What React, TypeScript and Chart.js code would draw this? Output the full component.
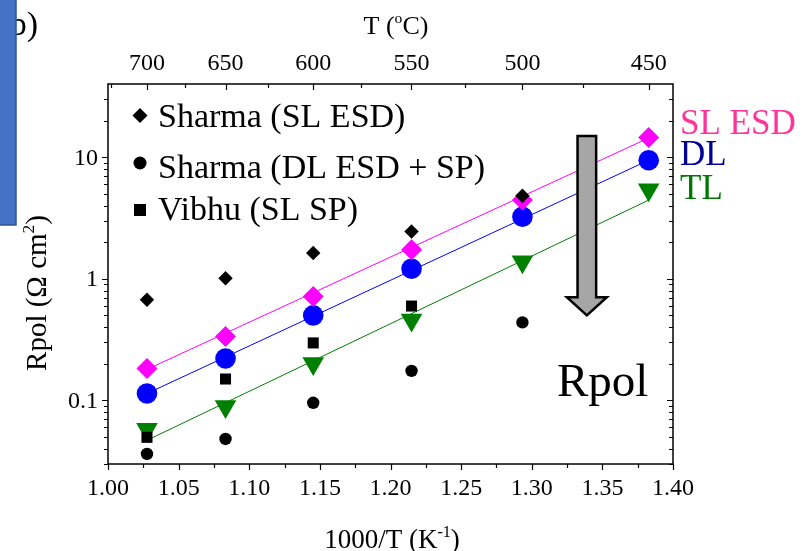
import React, { useEffect, useRef } from "react";
import { Chart, registerables } from "chart.js";

Chart.register(...registerables);

// 1000/T positions (K^-1) of the measurement temperatures 700 ... 450 °C
const invT = [1.0276, 1.0832, 1.1453, 1.2149, 1.2934, 1.3828];

// Axis ticks
const xTicks = [1.0, 1.05, 1.1, 1.15, 1.2, 1.25, 1.3, 1.35, 1.4];
const xTickLabels = ["1.00", "1.05", "1.10", "1.15", "1.20", "1.25", "1.30", "1.35", "1.40"];
const xMinorTicks = [1.025, 1.075, 1.125, 1.175, 1.225, 1.275, 1.325, 1.375];
const tempTicks = [700, 650, 600, 550, 500, 450];
const tempMinorTicks = [725, 675, 625, 575, 525, 475];
const yTicks = [0.1, 1, 10];
const yTickLabels = ["0.1", "1", "10"];
const yMinorTicks = [
  0.03, 0.04, 0.05, 0.06, 0.07, 0.08, 0.09,
  0.2, 0.3, 0.4, 0.5, 0.6, 0.7, 0.8, 0.9,
  2, 3, 4, 5, 6, 7, 8, 9,
  20, 30,
];

// Literature data (black symbols)
const sharmaSL = [0.673, 1.01, 1.63, 2.45, 4.82];
const sharmaDL = [0.0363, 0.0482, 0.0956, 0.175, 0.438];
const vibhuSL = [0.0497, 0.15, 0.297, 0.597];

// This work: single, double and triple layer cathodes
const slEsd = [0.183, 0.336, 0.716, 1.73, 4.44, 14.5];
const dlEsd = [0.114, 0.221, 0.5, 1.21, 3.24, 9.45];
const tlEsd = [0.0578, 0.0893, 0.201, 0.459, 1.38, 5.4];

// Arrhenius fit lines (end points)
const fitX = [1.0276, 1.3828];
const fitSL = [0.18, 14.4];
const fitDL = [0.114, 9.45];
const fitTL = [0.047, 4.44];

const SERIF = '"Liberation Serif", "Times New Roman", serif';

const pts = (ys: number[]) => ys.map((v, i) => ({ x: invT[i], y: v }));
const fitPts = (ys: number[]) => ys.map((v, i) => ({ x: fitX[i], y: v }));

type Part = { t: string; sup?: boolean };

function richWidth(ctx: CanvasRenderingContext2D, parts: Part[], size: number) {
  let w = 0;
  for (const p of parts) {
    ctx.font = `${p.sup ? size * 0.6 : size}px ${SERIF}`;
    w += ctx.measureText(p.t).width;
  }
  return w;
}

function drawRich(ctx: CanvasRenderingContext2D, parts: Part[], size: number, x: number, y: number) {
  const w = richWidth(ctx, parts, size);
  let cx = x - w / 2;
  ctx.textAlign = "left";
  ctx.textBaseline = "alphabetic";
  for (const p of parts) {
    ctx.font = `${p.sup ? size * 0.6 : size}px ${SERIF}`;
    ctx.fillText(p.t, cx, p.sup ? y - size * 0.42 : y);
    cx += ctx.measureText(p.t).width;
  }
}

const decorPlugin = {
  id: "decor",
  afterDatasetsDraw(chart: any) {
    const { ctx, chartArea: a, scales } = chart;
    const xs = scales.x;
    const ys = scales.y;
    ctx.save();

    // frame
    ctx.strokeStyle = "#000";
    ctx.lineWidth = 1.5;
    ctx.strokeRect(a.left, a.top, a.right - a.left, a.bottom - a.top);

    ctx.lineWidth = 1.2;
    ctx.beginPath();
    // bottom axis: outward ticks
    for (const v of xTicks) {
      const px = Math.round(xs.getPixelForValue(v)) + 0.5;
      ctx.moveTo(px, a.bottom);
      ctx.lineTo(px, a.bottom + 6);
    }
    for (const v of xMinorTicks) {
      const px = Math.round(xs.getPixelForValue(v)) + 0.5;
      ctx.moveTo(px, a.bottom);
      ctx.lineTo(px, a.bottom + 4);
    }
    // top axis (temperature): inward ticks
    for (const t of tempTicks) {
      const px = Math.round(xs.getPixelForValue(1000 / (t + 273.15))) + 0.5;
      ctx.moveTo(px, a.top);
      ctx.lineTo(px, a.top + 6);
    }
    for (const t of tempMinorTicks) {
      const px = Math.round(xs.getPixelForValue(1000 / (t + 273.15))) + 0.5;
      ctx.moveTo(px, a.top);
      ctx.lineTo(px, a.top + 4);
    }
    // left axis: outward, right axis: inward
    for (const v of yTicks) {
      const py = Math.round(ys.getPixelForValue(v)) + 0.5;
      ctx.moveTo(a.left - 6, py);
      ctx.lineTo(a.left, py);
      ctx.moveTo(a.right - 6, py);
      ctx.lineTo(a.right, py);
    }
    for (const v of yMinorTicks) {
      const py = Math.round(ys.getPixelForValue(v)) + 0.5;
      ctx.moveTo(a.left - 4, py);
      ctx.lineTo(a.left, py);
      ctx.moveTo(a.right - 4, py);
      ctx.lineTo(a.right, py);
    }
    ctx.stroke();

    // tick labels
    ctx.fillStyle = "#000";
    ctx.font = `24px ${SERIF}`;
    ctx.textAlign = "center";
    ctx.textBaseline = "alphabetic";
    xTicks.forEach((v, i) => {
      ctx.fillText(xTickLabels[i], xs.getPixelForValue(v), a.bottom + 31);
    });
    tempTicks.forEach((t) => {
      ctx.fillText(String(t), xs.getPixelForValue(1000 / (t + 273.15)), a.top - 14);
    });
    ctx.textAlign = "right";
    ctx.textBaseline = "middle";
    yTicks.forEach((v, i) => {
      ctx.fillText(yTickLabels[i], a.left - 10, ys.getPixelForValue(v) + 1);
    });

    // axis titles
    drawRich(ctx, [{ t: "1000/T (K" }, { t: "-1", sup: true }, { t: ")" }], 27, 392, 548);
    drawRich(ctx, [{ t: "T (" }, { t: "o", sup: true }, { t: "C)" }], 26, 396, 34);
    ctx.save();
    ctx.translate(46, 293);
    ctx.rotate(-Math.PI / 2);
    drawRich(ctx, [{ t: "Rpol (Ω cm" }, { t: "2", sup: true }, { t: ")" }], 29, 0, 0);
    ctx.restore();

    // legend for literature data
    const lx = 140;
    ctx.fillStyle = "#000";
    ctx.beginPath();
    ctx.moveTo(lx, 108);
    ctx.lineTo(lx + 7.5, 115.5);
    ctx.lineTo(lx, 123);
    ctx.lineTo(lx - 7.5, 115.5);
    ctx.closePath();
    ctx.fill();
    ctx.beginPath();
    ctx.arc(lx, 163, 6.5, 0, Math.PI * 2);
    ctx.fill();
    ctx.fillRect(lx - 6, 204, 12, 12);
    ctx.font = `34px ${SERIF}`;
    ctx.textAlign = "left";
    ctx.textBaseline = "alphabetic";
    ctx.fillText("Sharma (SL ESD)", 158, 127);
    ctx.fillText("Sharma (DL ESD + SP)", 158, 178);
    ctx.fillText("Vibhu (SL SP)", 158, 220);

    // series labels at the right
    ctx.font = `35px ${SERIF}`;
    ctx.fillStyle = "#ff3399";
    ctx.fillText("SL ESD", 680, 134);
    ctx.fillStyle = "#000099";
    ctx.fillText("DL", 680, 165);
    ctx.fillStyle = "#007700";
    ctx.fillText("TL", 680, 199);

    // decreasing-Rpol arrow
    const ax = xs.getPixelForValue(1.339);
    const aTop = ys.getPixelForValue(14.95);
    const aBase = ys.getPixelForValue(0.707);
    const aTip = ys.getPixelForValue(0.5);
    const sw = 9.3;
    const hw = 20;
    ctx.beginPath();
    ctx.moveTo(ax - sw, aTop);
    ctx.lineTo(ax + sw, aTop);
    ctx.lineTo(ax + sw, aBase);
    ctx.lineTo(ax + hw, aBase);
    ctx.lineTo(ax, aTip);
    ctx.lineTo(ax - hw, aBase);
    ctx.lineTo(ax - sw, aBase);
    ctx.closePath();
    ctx.fillStyle = "#a6a6a6";
    ctx.fill();
    ctx.strokeStyle = "#000";
    ctx.lineWidth = 2.5;
    ctx.lineJoin = "miter";
    ctx.stroke();

    ctx.fillStyle = "#000";
    ctx.font = `47px ${SERIF}`;
    ctx.textAlign = "left";
    ctx.fillText("Rpol", xs.getPixelForValue(1.3178), ys.getPixelForValue(0.1085));

    // panel tag, partly covered by the side bar
    ctx.font = `34px ${SERIF}`;
    ctx.fillText("(b)", -1.5, 35);
    ctx.fillStyle = "#4472c4";
    ctx.fillRect(-2, -2, 18, 227);
    ctx.strokeStyle = "#2f5597";
    ctx.lineWidth = 1.5;
    ctx.strokeRect(-2, -2, 18, 227);

    ctx.restore();
  },
};

export default function App() {
  const canvasRef = useRef<HTMLCanvasElement | null>(null);

  useEffect(() => {
    const canvas = canvasRef.current;
    if (!canvas) return;

    const marker = (color: string) => ({
      pointBackgroundColor: color,
      pointBorderColor: color,
      pointBorderWidth: 0,
      showLine: false,
    });
    const fitLine = (color: string) => ({
      borderColor: color,
      borderWidth: 1,
      pointRadius: 0,
      showLine: true,
      fill: false,
      order: 3,
    });

    const chart = new Chart(canvas, {
      type: "scatter",
      data: {
        datasets: [
          { label: "Sharma (SL ESD)", data: pts(sharmaSL), pointStyle: "rectRot", pointRadius: 7.2, ...marker("#000"), order: 0 },
          { label: "Sharma (DL ESD + SP)", data: pts(sharmaDL), pointStyle: "circle", pointRadius: 6.2, ...marker("#000"), order: 0 },
          { label: "Vibhu (SL SP)", data: pts(vibhuSL), pointStyle: "rect", pointRadius: 7.8, ...marker("#000"), order: 0 },
          { label: "SL ESD", data: pts(slEsd), pointStyle: "rectRot", pointRadius: 10.5, ...marker("#ff00ff"), order: 1 },
          { label: "DL", data: pts(dlEsd), pointStyle: "circle", pointRadius: 10.3, ...marker("#0000ff"), order: 1 },
          { label: "TL", data: pts(tlEsd), pointStyle: "triangle", rotation: 180, pointRadius: 12.5, ...marker("#008000"), order: 1 },
          { label: "SL fit", data: fitPts(fitSL), ...fitLine("#ff00ff") },
          { label: "DL fit", data: fitPts(fitDL), ...fitLine("#0000ff") },
          { label: "TL fit", data: fitPts(fitTL), ...fitLine("#008000") },
        ],
      },
      options: {
        animation: false,
        responsive: false,
        devicePixelRatio: 1,
        layout: { padding: { left: 108, right: 129, top: 84, bottom: 87 } },
        plugins: { legend: { display: false }, tooltip: { enabled: false } },
        scales: {
          x: { type: "linear", min: 1.0, max: 1.4, display: false },
          y: { type: "logarithmic", min: 0.03, max: 40, display: false },
        },
      },
      plugins: [decorPlugin],
    } as any);

    return () => chart.destroy();
  }, []);

  return (
    <div style={{ position: "absolute", left: 0, top: 0, width: 802, height: 551, background: "#fff" }}>
      <canvas ref={canvasRef} width={802} height={551} style={{ width: 802, height: 551, display: "block" }} />
    </div>
  );
}
